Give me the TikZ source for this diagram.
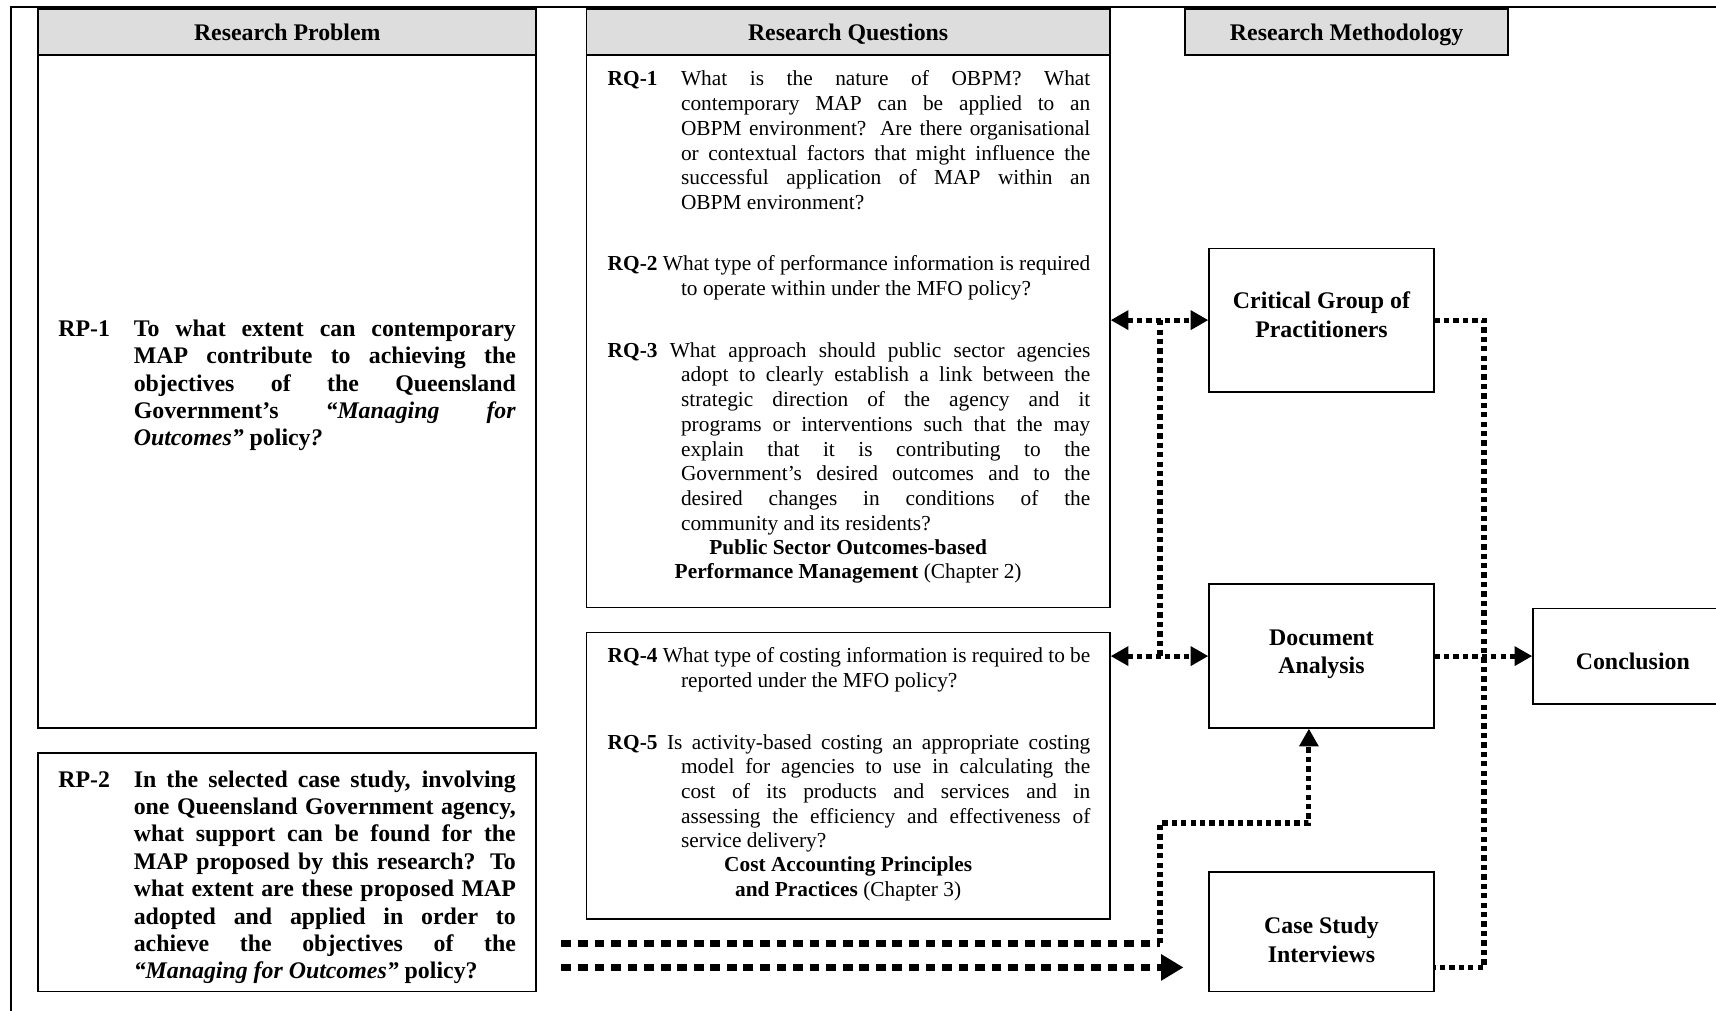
\documentclass[tikz,border=0pt]{standalone}
\usepackage{fontspec}
\setmainfont{Liberation Serif}
\usetikzlibrary{arrows.meta,calc}
\definecolor{hdrgray}{RGB}{221,221,221}
\newcommand\rqfont{\fontsize{12pt}{13.9pt}\selectfont}
\newcommand\rpfont{\fontsize{13.4pt}{15.4pt}\selectfont\bfseries}
\newcommand\lblfont{\fontsize{13.4pt}{16pt}\selectfont\bfseries}
\newcommand\rqline[1]{\hbox to 271.2pt{#1}}
\newcommand\rqhang[1]{\hbox to 271.2pt{\hskip41.2pt #1}}
\newcommand\rqlast[1]{\hbox{\hskip41.2pt #1}}
\newcommand\rpline[1]{\hbox to 257.1pt{#1}}
\newcommand\rphang[1]{\hbox to 257.1pt{\hskip42.4pt #1}}
\newcommand\rplast[1]{\hbox{\hskip42.4pt #1}}
\newcommand\ctrline[1]{\hbox to 294pt{\hfil #1\hfil}}
\newcommand\lblline[1]{\hbox to 120pt{\hfil #1\hfil}}
\begin{document}
\begin{tikzpicture}[x=0.615pt,y=-0.615pt,
  boxe/.style={draw,line width=1pt,inner sep=0pt},
  hdr/.style={boxe,fill=hdrgray,font=\lblfont,text height=11.1pt,text depth=1pt,minimum height=25.8pt},
  lbl/.style={boxe,minimum width=126.1pt},
  lbltext/.style={inner sep=0pt,anchor=base,font=\lblfont},
  para/.style={inner sep=0pt,anchor=base west},
  chapfoot/.style={inner sep=0pt,anchor=base,font=\rqfont},
  dotline/.style={line width=2.9pt,dash pattern=on 3pt off 2.3pt},
  thickdot/.style={line width=4.3pt,dash pattern=on 5.5pt off 3.8pt},
  arr/.style={-{Triangle[length=10pt,width=10.5pt]}},
  bigarr/.style={-{Triangle[length=12.5pt,width=14pt]}},
  dblarr/.style={{Triangle[length=10pt,width=10.5pt]}-{Triangle[length=10pt,width=10.5pt]}},
]
\useasboundingbox (0,0) rectangle (1568,923);
\clip (0,0) rectangle (1568,923);
\fill[white] (0,0) rectangle (1568,923);
% outer frame
\draw[line width=1.2pt] (10,930) -- (10,6) -- (1580,6);

% headers and boxes
\node[hdr,minimum width=279.8pt] (rphdr) at (262.5,29) {Research Problem};
\node[boxe,minimum width=279.8pt,minimum height=378.2pt] (rpbody) at (262.5,357.5) {};
\node[boxe,minimum width=279.8pt,minimum height=134.1pt] (rp2box) at (262.5,797) {};
\node[hdr,minimum width=294pt] (rqhdr) at (775,29) {Research Questions};
\node[boxe,minimum width=294pt,minimum height=310.6pt] (rqbody) at (775,302.5) {};
\node[boxe,minimum width=294pt,minimum height=161.1pt] (rq2box) at (775,709) {};
\node[hdr,minimum width=181.4pt] (rmhdr) at (1230.5,29) {Research Methodology};

\node[lbl,minimum height=80.6pt] (crit) at (1207.5,292.5) {};
\node[lbl,minimum height=80.6pt] (doc) at (1207.5,599.5) {};
\node[lbl,minimum height=67pt] (case) at (1207.5,851.5) {};
\node[lbl,minimum width=112pt,minimum height=53.5pt] (concl) at (1492,599.5) {};
\node[lbltext] (critT) at (1207.5,282.2) {\vtop{\lblline{Critical Group of}\lblline{Practitioners}}};
\node[lbltext] (docT) at (1207.5,589.5) {\vtop{\lblline{Document}\lblline{Analysis}}};
\node[lbltext] (caseT) at (1207.5,853.2) {\vtop{\lblline{Case Study}\lblline{Interviews}}};
\node[lbltext] (conclT) at (1492,612.2) {Conclusion};

% research problem texts
\node[para,font=\rpfont] (rp1) at (53,307.2) {\vtop{%
\rpline{\makebox[42.4pt][l]{RP-1}To what extent can contemporary}
\rphang{MAP contribute to achieving the}
\rphang{objectives of the Queensland}
\rphang{Government’s \textit{“Managing for}}
\rplast{\textit{Outcomes”} policy\textit{?}}}};
\node[para,font=\rpfont] (rp2) at (53,719.2) {\vtop{%
\rpline{\makebox[42.4pt][l]{RP-2}In the selected case study, involving}
\rphang{one Queensland Government agency,}
\rphang{what support can be found for the}
\rphang{MAP proposed by this research? To}
\rphang{what extent are these proposed MAP}
\rphang{adopted and applied in order to}
\rphang{achieve the objectives of the}
\rplast{\textit{“Managing for Outcomes”} policy?}}};

% research question texts
\node[para,font=\rqfont] (rq1) at (555,78.4) {\vtop{%
\rqline{\makebox[41.2pt][l]{\textbf{RQ-1}}What is the nature of OBPM? What}
\rqhang{contemporary MAP can be applied to an}
\rqhang{OBPM environment? Are there organisational}
\rqhang{or contextual factors that might influence the}
\rqhang{successful application of MAP within an}
\rqlast{OBPM environment?}}};
\node[para,font=\rqfont] (rq2) at (555,247.4) {\vtop{%
\rqline{\textbf{RQ-2} What type of performance information is required}
\rqlast{to operate within under the MFO policy?}}};
\node[para,font=\rqfont] (rq3) at (555,326.4) {\vtop{%
\rqline{\textbf{RQ-3} What approach should public sector agencies}
\rqhang{adopt to clearly establish a link between the}
\rqhang{strategic direction of the agency and it}
\rqhang{programs or interventions such that the may}
\rqhang{explain that it is contributing to the}
\rqhang{Government’s desired outcomes and to the}
\rqhang{desired changes in conditions of the}
\rqlast{community and its residents?}}};
\node[chapfoot] (ch2) at (775,506.4) {\vtop{%
\ctrline{\textbf{Public Sector Outcomes-based}}
\ctrline{\textbf{Performance Management} (Chapter 2)}}};
\node[para,font=\rqfont] (rq4) at (555,605.4) {\vtop{%
\rqline{\textbf{RQ-4} What type of costing information is required to be}
\rqlast{reported under the MFO policy?}}};
\node[para,font=\rqfont] (rq5) at (555,684.4) {\vtop{%
\rqline{\textbf{RQ-5} Is activity-based costing an appropriate costing}
\rqhang{model for agencies to use in calculating the}
\rqhang{cost of its products and services and in}
\rqhang{assessing the efficiency and effectiveness of}
\rqlast{service delivery?}}};
\node[chapfoot] (ch3) at (775,796.4) {\vtop{%
\ctrline{\textbf{Cost Accounting Principles}}
\ctrline{\textbf{and Practices} (Chapter 3)}}};

% coordinates for connectors
\coordinate (busL) at (1060,0);
\coordinate (busR) at (1356,0);
\coordinate (lowA) at (513,862);
\coordinate (lowB) at (513,884);
\coordinate (knee) at (1196,752);

% connectors
\draw[dotline,dblarr] (rqbody.east |- crit.west) -- (crit.west);
\draw[dotline,dblarr] (rq2box.east |- doc.west) -- (doc.west);
\draw[dotline] (busL |- crit.west) -- (busL |- doc.west);
\draw[dotline] (crit.east) -| (busR |- lowB) -- (case.east |- lowB);
\draw[dotline,arr] (doc.east) -- (concl.west);
\draw[thickdot] (lowA) -- (lowA -| busL);
\draw[dotline,arr] (lowA -| busL) -- (busL |- knee) -- (knee) -- (knee |- doc.south);
\draw[thickdot,bigarr,shorten >=14pt] (lowB) -- (lowB -| case.west);
\end{tikzpicture}
\end{document}
